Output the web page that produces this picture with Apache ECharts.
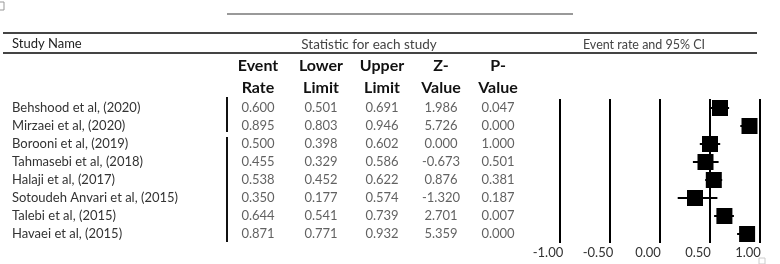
<!DOCTYPE html>
<html>
<head>
<meta charset="utf-8">
<script src="https://cdn.jsdelivr.net/npm/echarts@6/dist/echarts.min.js"></script>
<style>
  html, body { margin: 0; padding: 0; background: #fff; }
  #chart { width: 780px; height: 264px; }
</style>
</head>
<body>
<div id="chart"></div>
<script>
// study data
const studies = [
  "Behshood et al, (2020)",
  "Mirzaei et al, (2020)",
  "Borooni et al, (2019)",
  "Tahmasebi et al, (2018)",
  "Halaji et al, (2017)",
  "Sotoudeh Anvari et al, (2015)",
  "Talebi et al, (2015)",
  "Havaei et al, (2015)",
];
const eventRate = [0.600, 0.895, 0.500, 0.455, 0.538, 0.350, 0.644, 0.871];
const lowerLimit = [0.501, 0.803, 0.398, 0.329, 0.452, 0.177, 0.541, 0.771];
const upperLimit = [0.691, 0.946, 0.602, 0.586, 0.622, 0.574, 0.739, 0.932];
const zValue = [1.986, 5.726, 0.000, -0.673, 0.876, -1.320, 2.701, 5.359];
const pValue = [0.047, 0.000, 1.000, 0.501, 0.381, 0.187, 0.007, 0.000];

// table layout
const FONT = "Lato, 'Open Sans', sans-serif";
const colX = [258, 321, 382, 441, 498];
const colHead = [["Event", "Rate"], ["Lower", "Limit"], ["Upper", "Limit"], ["Z-", "Value"], ["P-", "Value"]];
const colData = [eventRate, lowerLimit, upperLimit, zValue, pValue];

const chart = echarts.init(document.getElementById("chart"));

const tableSeries = colData.map((vals, c) => ({
  type: "scatter",
  xAxisIndex: 1,
  yAxisIndex: 1,
  symbolSize: 0,
  silent: true,
  data: vals.map((v, i) => [colX[c], i, v]),
  label: {
    show: true,
    position: "inside",
    formatter: (p) => p.value[2].toFixed(3),
    fontFamily: FONT,
    fontSize: 13,
    color: "#3a3a3a",
  },
}));

const headerGraphics = [];
colHead.forEach((h, c) => {
  h.forEach((t, r) => {
    headerGraphics.push({
      type: "text",
      x: colX[c],
      y: r === 0 ? 66 : 88,
      style: {
        text: t,
        fill: "#111",
        font: "bold 16px " + FONT,
        align: "center",
        verticalAlign: "middle",
      },
    });
  });
});

const option = {
  animation: false,
  backgroundColor: "#fff",
  grid: [
    { left: 560, right: 20, top: 99, height: 144 },
    { left: 0, width: 560, top: 99, height: 144 },
  ],
  xAxis: [
    {
      type: "value",
      gridIndex: 0,
      min: -1,
      max: 1,
      interval: 0.5,
      axisLine: { show: false },
      axisTick: { show: false },
      splitLine: { show: true, lineStyle: { color: "#000", width: 2 } },
      axisLabel: {
        formatter: (v) => v.toFixed(2),
        fontFamily: FONT,
        fontSize: 13,
        color: "#333",
        margin: 3,
        padding: [0, 24, 0, 0],
      },
    },
    { type: "value", gridIndex: 1, min: 0, max: 560, show: false },
  ],
  yAxis: [
    { type: "category", gridIndex: 0, data: studies, inverse: true, show: false },
    {
      type: "category",
      gridIndex: 1,
      data: studies,
      inverse: true,
      axisLine: { show: false },
      axisTick: { show: false },
      axisLabel: {
        interval: 0,
        inside: true,
        margin: 12,
        align: "left",
        fontFamily: FONT,
        fontSize: 13,
        color: "#333",
      },
    },
  ],
  series: [
    {
      type: "custom",
      xAxisIndex: 0,
      yAxisIndex: 0,
      silent: true,
      data: studies.map((s, i) => [lowerLimit[i], upperLimit[i], i]),
      renderItem: (params, api) => {
        const a = api.coord([api.value(0), api.value(2)]);
        const b = api.coord([api.value(1), api.value(2)]);
        return {
          type: "line",
          shape: { x1: a[0], y1: a[1], x2: b[0], y2: b[1] },
          style: { stroke: "#000", lineWidth: 2 },
        };
      },
      z: 2,
    },
    {
      type: "scatter",
      xAxisIndex: 0,
      yAxisIndex: 0,
      symbol: "rect",
      symbolSize: 16,
      silent: true,
      itemStyle: { color: "#000", opacity: 1 },
      data: eventRate.map((v, i) => [v, i]),
      z: 3,
    },
    ...tableSeries,
  ],
  graphic: [
    { type: "line", shape: { x1: 227, y1: 14, x2: 573, y2: 14 }, style: { stroke: "#777", lineWidth: 1.5 } },
    { type: "line", shape: { x1: 3, y1: 33, x2: 757, y2: 33 }, style: { stroke: "#444", lineWidth: 2 } },
    { type: "line", shape: { x1: 3, y1: 53, x2: 757, y2: 53 }, style: { stroke: "#444", lineWidth: 2 } },
    { type: "text", x: 12, y: 44, style: { text: "Study Name", fill: "#222", font: "13px " + FONT, verticalAlign: "middle" } },
    { type: "text", x: 369, y: 45, style: { text: "Statistic for each study", fill: "#444", font: "13.5px " + FONT, align: "center", verticalAlign: "middle" } },
    { type: "text", x: 644, y: 45, style: { text: "Event rate and 95% CI", fill: "#444", font: "12.5px " + FONT, align: "center", verticalAlign: "middle" } },
    ...headerGraphics,
    { type: "line", shape: { x1: 227, y1: 97, x2: 227, y2: 132 }, style: { stroke: "#111", lineWidth: 2 } },
    { type: "line", shape: { x1: 227, y1: 137, x2: 227, y2: 242 }, style: { stroke: "#111", lineWidth: 2 } },
    { type: "rect", shape: { x: -2, y: 2, width: 6, height: 8 }, style: { fill: "none", stroke: "#999", lineWidth: 1 } },
    { type: "rect", shape: { x: 759, y: 258, width: 6, height: 6 }, style: { fill: "none", stroke: "#ccc", lineWidth: 1 } },
  ],
};

chart.setOption(option);
</script>
</body>
</html>
